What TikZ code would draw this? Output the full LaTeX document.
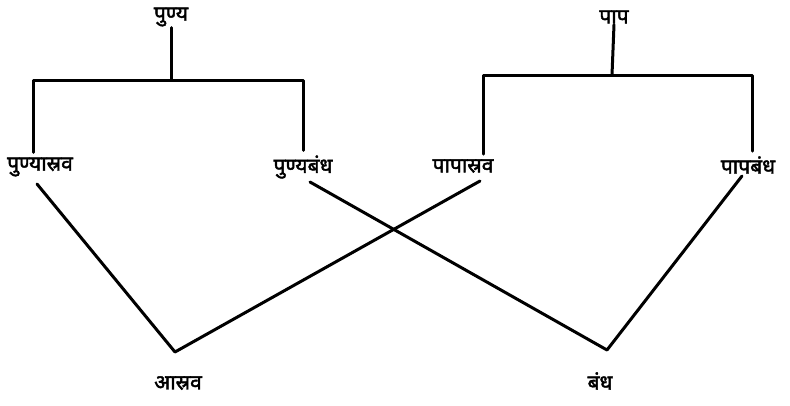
\documentclass[tikz,border=0pt]{standalone}
\usepackage{fontspec}
\newfontfamily\dev[Script=Devanagari, FakeBold=2]{Noto Sans}
\begin{document}
\begin{tikzpicture}[x=1pt,y=-1pt,
  lbl/.style={font=\dev\fontsize{21}{24}\selectfont, inner sep=1pt},
  ln/.style={line width=3pt, line cap=round, line join=round}]
\useasboundingbox[fill=white] (0,0) rectangle (790,405);
\node[lbl] (punya) at (171,17) {पुण्य};
\node[lbl] (papa) at (614,17) {पाप};
\node[lbl] (pa) at (40,167) {पुण्यास्रव};
\node[lbl] (pb) at (303,167) {पुण्यबंध};
\node[lbl] (pp) at (463,166) {पापास्रव};
\node[lbl] (ppb) at (748,165) {पापबंध};
\node[lbl] (asrava) at (178,383) {आस्रव};
\node[lbl] (bandha) at (600,381) {बंध};
% left bracket
\coordinate (j1) at (171,80);
\coordinate (l1) at (33,80);
\coordinate (r1) at (303,80);
\draw[ln] (punya.south) -- (j1);
\draw[ln] ([yshift=4pt]l1 |- pa.north) -- (l1) -- (r1) -- ([yshift=4pt]r1 |- pb.north);
% right bracket
\coordinate (j2) at (612,75);
\coordinate (l2) at (483,75);
\coordinate (r2) at (752,75);
\draw[ln] (papa.south) -- (j2);
\draw[ln] ([yshift=4pt]l2 |- pp.north) -- (l2) -- (r2) -- ([yshift=4pt]r2 |- ppb.north);
% crossing lines
\coordinate (s1) at (37,184);
\coordinate (s2) at (480,181);
\coordinate (s3) at (310,182);
\coordinate (s4) at (742,176);
\coordinate (apA) at (175,352);
\coordinate (apB) at (607,350);
\draw[ln] (s1) -- (apA) -- (s2);
\draw[ln] (s3) -- (apB) -- (s4);
\end{tikzpicture}
\end{document}
